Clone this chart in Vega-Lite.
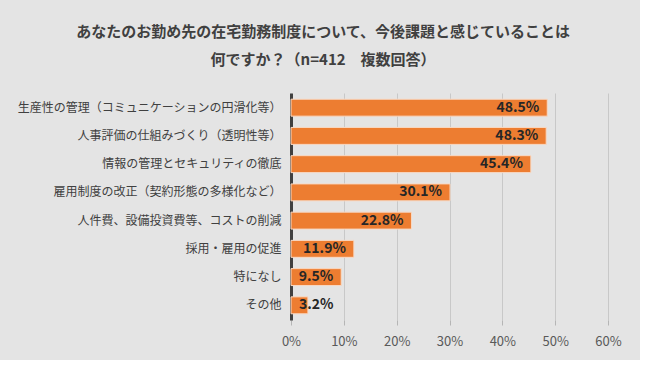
{
  "$schema": "https://vega.github.io/schema/vega-lite/v6.json",
  "autosize": "none",
  "width": 317,
  "height": 227,
  "padding": {"left": 291, "top": 93, "right": 32, "bottom": 40},
  "background": "#e4e4e4",
  "title": {
    "text": ["あなたのお勤め先の在宅勤務制度について、今後課題と感じていることは", "何ですか？（n=412　複数回答）"],
    "font": "Noto Sans CJK JP",
    "fontSize": 15,
    "fontWeight": "bold",
    "color": "#404040",
    "anchor": "middle",
    "frame": "bounds",
    "dx": 4,
    "lineHeight": 28,
    "offset": 25
  },
  "data": {
    "values": [
      {"item": "生産性の管理（コミュニケーションの円滑化等）", "value": 0.485},
      {"item": "人事評価の仕組みづくり（透明性等）", "value": 0.483},
      {"item": "情報の管理とセキュリティの徹底", "value": 0.454},
      {"item": "雇用制度の改正（契約形態の多様化など）", "value": 0.301},
      {"item": "人件費、設備投資費等、コストの削減", "value": 0.228},
      {"item": "採用・雇用の促進", "value": 0.119},
      {"item": "特になし", "value": 0.095},
      {"item": "その他", "value": 0.032}
    ]
  },
  "encoding": {
    "y": {
      "field": "item",
      "type": "nominal",
      "sort": null,
      "scale": {"paddingInner": 0.4, "paddingOuter": 0.22},
      "axis": {
        "title": null,
        "ticks": false,
        "domainColor": "#404040",
        "domainWidth": 3,
        "labelFont": "Noto Sans CJK JP",
        "labelFontSize": 12,
        "labelColor": "#404040",
        "labelPadding": 10,
        "labelLimit": 400
      }
    },
    "x": {
      "field": "value",
      "type": "quantitative",
      "scale": {"domain": [0, 0.6], "nice": false},
      "axis": {
        "title": null,
        "format": ".0%",
        "values": [0, 0.1, 0.2, 0.3, 0.4, 0.5, 0.6],
        "grid": true,
        "gridColor": "#c8c8c8",
        "domain": false,
        "ticks": true,
        "tickColor": "#b5b5b5",
        "tickSize": 5,
        "labelFlush": false,
        "labelOverlap": false,
        "labelFont": "Noto Sans CJK JP",
        "labelFontSize": 13,
        "labelColor": "#595959",
        "labelPadding": 10
      }
    }
  },
  "layer": [
    {
      "mark": {"type": "bar", "color": "#ED7D31", "stroke": "#f8d9c4", "strokeWidth": 1}
    },
    {
      "transform": [{"filter": "datum.value >= 0.05"}],
      "mark": {"type": "text", "align": "right", "baseline": "middle", "dx": -8, "font": "Noto Sans CJK JP", "fontSize": 14, "fontWeight": "bold", "color": "#262626"},
      "encoding": {"text": {"field": "value", "type": "quantitative", "format": ".1%"}}
    },
    {
      "transform": [{"filter": "datum.value < 0.05"}],
      "mark": {"type": "text", "align": "left", "baseline": "middle", "dx": 8, "font": "Noto Sans CJK JP", "fontSize": 14, "fontWeight": "bold", "color": "#262626"},
      "encoding": {
        "x": {"datum": 0, "type": "quantitative"},
        "text": {"field": "value", "type": "quantitative", "format": ".1%"}
      }
    }
  ],
  "config": {"view": {"stroke": null}}
}
